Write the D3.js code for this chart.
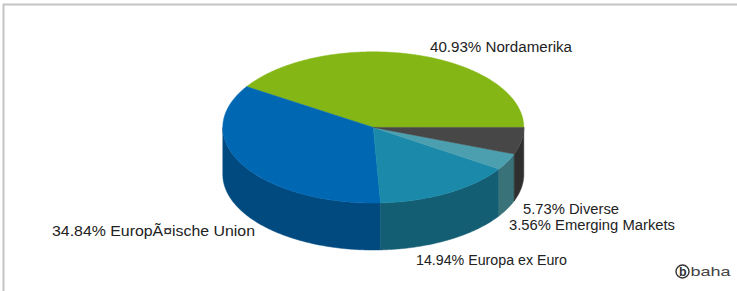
<!DOCTYPE html>
<html>
<head>
<meta charset="utf-8">
<script src="https://cdn.jsdelivr.net/npm/d3@7/dist/d3.min.js"></script>
<style>
  html, body { margin: 0; padding: 0; background: #fff; }
  svg { display: block; }
  text { font-family: "Liberation Sans", Arial, sans-serif; }
</style>
</head>
<body>
<svg id="chart" width="737" height="291"></svg>
<script>
// ---- data ----
const categories = ["Nordamerika", "EuropÃ¤ische Union", "Europa ex Euro", "Emerging Markets", "Diverse"];
const values = [40.93, 34.84, 14.94, 3.56, 5.73];
// ---- styles ----
const topColors  = ["#84b716", "#0067b3", "#1b8aaa", "#4c9fae", "#474747"];
const sideColors = ["#5d820f", "#004a80", "#145e74", "#3a7279", "#2f2f2f"];
// label anchors (left x, baseline y) and rendered widths
const labelPos = [[430, 52], [52, 236], [416, 265], [509, 230], [523, 214]];
const labelWidth = [142, 203, 151, 166, 96];

const W = 737, H = 291;
const svg = d3.select("#chart");

// frame
svg.append("line").attr("x1", 3).attr("x2", W).attr("y1", 4.5).attr("y2", 4.5)
  .attr("stroke", "#c4c4c4").attr("stroke-width", 2);
svg.append("line").attr("x1", 3.5).attr("x2", 3.5).attr("y1", 4).attr("y2", H)
  .attr("stroke", "#c4c4c4").attr("stroke-width", 2);

const cx = 373.3, cy = 127.4, rx = 150.5, ry = 75.6, depth = 47;
const xs = d3.scaleLinear().domain([-1, 1]).range([cx - rx, cx + rx]);
const ys = d3.scaleLinear().domain([-1, 1]).range([cy + ry, cy - ry]);

const pie = d3.pie().sort(null).startAngle(0).endAngle(2 * Math.PI);
const arcs = pie(values).map((d, i) => ({...d, i}));

function pt(a) { return [xs(Math.cos(a)), ys(Math.sin(a))]; }
function arcPts(a0, a1) {
  const n = Math.max(2, Math.ceil((a1 - a0) / (Math.PI / 360)));
  return d3.range(n + 1).map(k => pt(a0 + (a1 - a0) * k / n));
}

// side walls (front half only: angles pi..2pi)
const gSide = svg.append("g");
arcs.forEach(d => {
  const a0 = Math.max(d.startAngle, Math.PI), a1 = Math.min(d.endAngle, 2 * Math.PI);
  if (a1 <= a0) return;
  const top = arcPts(a0, a1);
  const bot = top.slice().reverse().map(p => [p[0], p[1] + depth]);
  const p = d3.path();
  top.concat(bot).forEach((q, k) => k ? p.lineTo(q[0], q[1]) : p.moveTo(q[0], q[1]));
  p.closePath();
  gSide.append("path").attr("d", p.toString()).attr("fill", sideColors[d.i])
    .attr("stroke", sideColors[d.i]).attr("stroke-width", 0.5);
});

// top faces
const gTop = svg.append("g");
arcs.forEach(d => {
  const p = d3.path();
  p.moveTo(cx, cy);
  arcPts(d.startAngle, d.endAngle).forEach(q => p.lineTo(q[0], q[1]));
  p.closePath();
  gTop.append("path").attr("d", p.toString()).attr("fill", topColors[d.i])
    .attr("stroke", topColors[d.i]).attr("stroke-width", 0.5);
});

// labels
const gLab = svg.append("g");
categories.forEach((c, i) => {
  gLab.append("text")
    .attr("x", labelPos[i][0]).attr("y", labelPos[i][1])
    .attr("font-size", 14).attr("fill", "#222")
    .attr("textLength", labelWidth[i]).attr("lengthAdjust", "spacingAndGlyphs")
    .text(values[i].toFixed(2) + "% " + c);
});

// baha logo
const gLogo = svg.append("g");
gLogo.append("circle").attr("cx", 682.5).attr("cy", 271.5).attr("r", 6.5)
  .attr("fill", "none").attr("stroke", "#333").attr("stroke-width", 1.4);
gLogo.append("text").attr("x", 682.7).attr("y", 275.8).attr("text-anchor", "middle")
  .attr("font-size", 12.5).attr("font-weight", "bold").attr("fill", "#333").text("b");
gLogo.append("text").attr("x", 690.5).attr("y", 275.5)
  .attr("font-size", 13).attr("fill", "#444")
  .attr("textLength", 40).attr("lengthAdjust", "spacingAndGlyphs").text("baha");
</script>
</body>
</html>
